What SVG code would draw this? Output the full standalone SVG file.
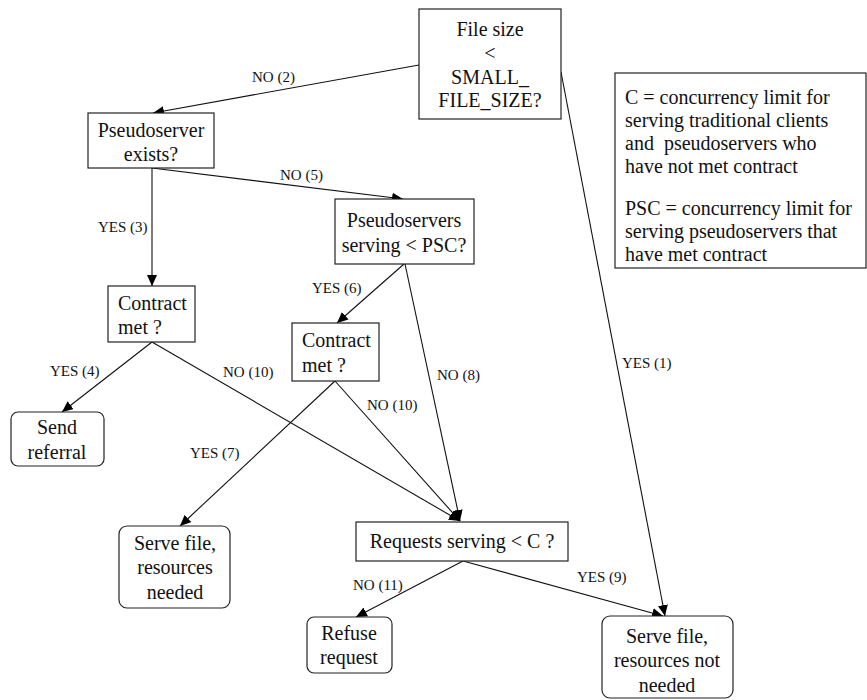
<svg xmlns="http://www.w3.org/2000/svg" width="867" height="700" viewBox="0 0 867 700">
<defs>
<marker id="ah" markerUnits="userSpaceOnUse" markerWidth="12" markerHeight="10" refX="11" refY="5" orient="auto">
<path d="M0,0 L11,5 L0,10 Z" fill="#000"/>
</marker>
<style>
.box{fill:#fff;stroke:#222;stroke-width:1.2}
text{font-family:'Liberation Serif','Tinos','Times New Roman','DejaVu Serif',serif;fill:#111}
.t{font-size:20px;text-anchor:middle}
.ts{font-size:20px}
.lb{font-size:15px}
.e{stroke:#111;stroke-width:1.1;fill:none;marker-end:url(#ah)}
</style>
</defs>
<rect width="867" height="700" fill="#fff"/>
<g id="connectors">
<path class="e" d="M419,65 L153,113"/>
<path class="e" d="M152,168 L152,286"/>
<path class="e" d="M152,168 L403,199"/>
<path class="e" d="M404,264 L337,323"/>
<path class="e" d="M405,264 L460,521"/>
<path class="e" d="M152,342 L62,412"/>
<path class="e" d="M152,342 L460,521"/>
<path class="e" d="M335,381 L460,521"/>
<path class="e" d="M335,381 L180,526"/>
<path class="e" d="M463,561 L356,617"/>
<path class="e" d="M463,561 L663,616"/>
<path class="e" d="M561,72 L665,616"/>
<text class="lb" x="252" y="82">NO (2)</text>
<text class="lb" x="98" y="232">YES (3)</text>
<text class="lb" x="280" y="180">NO (5)</text>
<text class="lb" x="312" y="293">YES (6)</text>
<text class="lb" x="437" y="380">NO (8)</text>
<text class="lb" x="50" y="376">YES (4)</text>
<text class="lb" x="223" y="377">NO (10)</text>
<text class="lb" x="367" y="410">NO (10)</text>
<text class="lb" x="190" y="458">YES (7)</text>
<text class="lb" x="353" y="590">NO (11)</text>
<text class="lb" x="577" y="582">YES (9)</text>
<text class="lb" x="622" y="368">YES (1)</text>
</g>
<g id="filesize">
<rect class="box" x="419" y="9" width="142" height="110"/>
<text class="t" x="490" y="36">File size</text>
<text class="t" x="490" y="60">&lt;</text>
<text class="t" x="490" y="84">SMALL_</text>
<text class="t" x="490" y="107">FILE_SIZE?</text>
</g>
<g id="legend">
<rect class="box" x="615" y="73" width="251" height="195"/>
<text class="ts" x="625" y="104">C = concurrency limit for</text>
<text class="ts" x="625" y="127">serving traditional clients</text>
<text class="ts" x="625" y="150" xml:space="preserve">and  pseudoservers who</text>
<text class="ts" x="625" y="173">have not met contract</text>
<text class="ts" x="625" y="215">PSC = concurrency limit for</text>
<text class="ts" x="625" y="238">serving pseudoservers that</text>
<text class="ts" x="625" y="261">have met contract</text>
</g>
<g id="pseudoserver">
<rect class="box" x="88" y="113" width="126" height="55"/>
<text class="t" x="151" y="137">Pseudoserver</text>
<text class="t" x="151" y="161">exists?</text>
</g>
<g id="psc">
<rect class="box" x="335" y="199" width="139" height="65"/>
<text class="t" x="404" y="227">Pseudoservers</text>
<text class="t" x="404" y="252">serving &lt; PSC?</text>
</g>
<g id="contract1">
<rect class="box" x="108" y="286" width="87" height="56"/>
<text class="ts" x="118" y="310">Contract</text>
<text class="ts" x="118" y="334">met ?</text>
</g>
<g id="contract2">
<rect class="box" x="292" y="323" width="87" height="58"/>
<text class="ts" x="302" y="347">Contract</text>
<text class="ts" x="302" y="372">met ?</text>
</g>
<g id="sendreferral">
<rect class="box" x="11" y="412" width="93" height="54" rx="7"/>
<text class="t" x="57" y="434">Send</text>
<text class="t" x="57" y="459">referral</text>
</g>
<g id="servefile1">
<rect class="box" x="119" y="526" width="111" height="82" rx="8"/>
<text class="t" x="175" y="550">Serve file,</text>
<text class="t" x="175" y="574">resources</text>
<text class="t" x="175" y="599">needed</text>
</g>
<g id="requests">
<rect class="box" x="356" y="522" width="212" height="39"/>
<text class="t" x="462" y="548">Requests serving &lt; C ?</text>
</g>
<g id="refuse">
<rect class="box" x="307" y="617" width="85" height="56" rx="7"/>
<text class="t" x="349" y="640">Refuse</text>
<text class="t" x="349" y="664">request</text>
</g>
<g id="servefile2">
<rect class="box" x="602" y="616" width="131" height="82" rx="8"/>
<text class="t" x="667" y="643">Serve file,</text>
<text class="t" x="667" y="667">resources not</text>
<text class="t" x="667" y="692">needed</text>
</g>
</svg>
